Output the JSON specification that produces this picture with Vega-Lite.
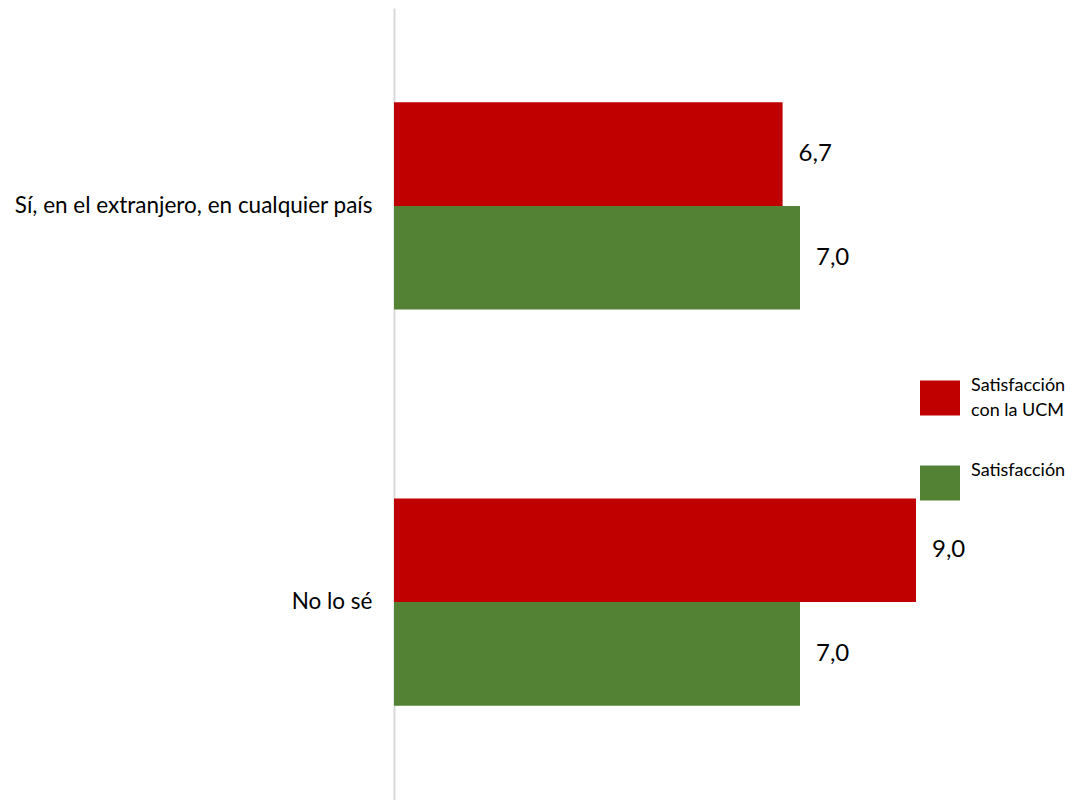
{
  "$schema": "https://vega.github.io/schema/vega-lite/v6.json",
  "autosize": "none",
  "width": 580,
  "height": 792,
  "padding": {"left": 394, "top": 8, "right": 107, "bottom": 0},
  "background": "white",
  "config": {
    "view": {"stroke": null},
    "font": "Lato",
    "locale": {"number": {"decimal": ",", "thousands": ".", "grouping": [3], "currency": ["", " €"]}},
    "style": {"guide-label": {"lineHeight": 25}}
  },
  "data": {
    "values": [
      {"cat": "Sí, en el extranjero, en cualquier país", "serie": "Satisfacción con la UCM", "v": 6.7},
      {"cat": "Sí, en el extranjero, en cualquier país", "serie": "Satisfacción", "v": 7.0},
      {"cat": "No lo sé", "serie": "Satisfacción con la UCM", "v": 9.0},
      {"cat": "No lo sé", "serie": "Satisfacción", "v": 7.0}
    ]
  },
  "encoding": {
    "y": {
      "field": "cat",
      "type": "nominal",
      "sort": null,
      "scale": {"paddingInner": 0.477, "paddingOuter": 0.238},
      "axis": {
        "title": null,
        "domainColor": "#d9d9d9",
        "domainWidth": 2,
        "ticks": false,
        "labelFontSize": 22.5,
        "labelPadding": 22,
        "labelColor": "#000000",
        "labelLimit": 400
      }
    },
    "yOffset": {"field": "serie", "sort": ["Satisfacción con la UCM", "Satisfacción"]},
    "x": {"field": "v", "type": "quantitative", "scale": {"domain": [0, 10]}, "axis": null}
  },
  "layer": [
    {
      "mark": {"type": "bar"},
      "encoding": {
        "color": {
          "field": "serie",
          "type": "nominal",
          "sort": ["Satisfacción con la UCM", "Satisfacción"],
          "scale": {"domain": ["Satisfacción con la UCM", "Satisfacción"], "range": ["#C00000", "#548235"]},
          "legend": {
            "orient": "none",
            "legendX": 526,
            "legendY": 370,
            "title": null,
            "padding": 0,
            "symbolType": "M-1,-0.875L1,-0.875L1,0.875L-1,0.875Z",
            "symbolSize": 1600,
            "symbolStrokeWidth": 0,
            "symbolOpacity": 1,
            "labelFontSize": 18,
            "labelBaseline": "line-bottom",
            "labelColor": "#000000",
            "labelOffset": 11,
            "rowPadding": 42,
            "labelLimit": 200,
            "labelExpr": "datum.value === 'Satisfacción con la UCM' ? ['Satisfacción', 'con la UCM'] : ['Satisfacción', '']"
          }
        }
      }
    },
    {
      "mark": {"type": "text", "align": "left", "baseline": "middle", "dx": 16, "fontSize": 24, "color": "#000000"},
      "encoding": {"text": {"field": "v", "type": "quantitative", "format": ".1f"}}
    }
  ]
}
